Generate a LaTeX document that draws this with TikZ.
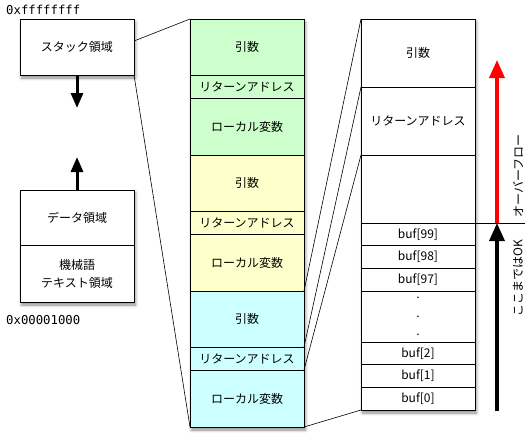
\documentclass[tikz,border=0pt]{standalone}
\usepackage{fontspec}
\setmainfont{Noto Sans CJK JP}
\setmonofont{DejaVu Sans Mono}
\usetikzlibrary{arrows.meta,shadows.blur}

\definecolor{frameA}{RGB}{204,255,204}
\definecolor{frameB}{RGB}{255,255,204}
\definecolor{frameC}{RGB}{204,255,255}

\begin{document}
\begin{tikzpicture}[x=1pt,y=-1pt]
  \tikzset{
    cell/.style={draw=black, line width=0.8pt, minimum width=114pt, inner sep=0pt, outer sep=0pt, anchor=north west, align=center, font=\fontsize{12}{18}\selectfont},
    column/.style={cell, fill=white, blur shadow={shadow xshift=1.5pt, shadow yshift=-3pt, shadow blur radius=3pt, shadow opacity=45}},
    addr/.style={anchor=west, inner sep=0pt, font=\ttfamily\fontsize{12.3}{14}\selectfont},
    fat arrow/.style={line width=3pt, -{Triangle[width=12pt,length=15pt]}},
    flow arrow/.style={line width=3.5pt, -{Triangle[width=15pt,length=18pt]}},
    side label/.style={rotate=90, inner sep=0pt, font=\fontsize{12}{14}\selectfont},
    link/.style={line width=0.6pt}
  }
  \useasboundingbox (0,0) rectangle (528,442);

  \node [addr] (top addr) at (6,10) {0xffffffff};
  \node [addr] (bottom addr) at (6,320) {0x00001000};

  \node [column, minimum height=56pt] (stack) at (20,19) {スタック領域};

  \node [column, minimum height=112pt] (lower) at (20,190) {};
  \node [cell, minimum height=55pt] (data) at (20,190) {データ領域};
  \node [cell, minimum height=57pt] (text) at (data.south west) {機械語\\テキスト領域};

  \coordinate (down tip) at (77,108);
  \coordinate (up tip) at (77,157);
  \draw [fat arrow] (stack.south) -- (down tip);
  \draw [fat arrow] (data.north) -- (up tip);

  \node [column, minimum height=408pt] (frames) at (190,19) {};
  \foreach \name/\col [count=\i from 0] in {a/frameA, b/frameB, c/frameC} {
    \node [cell, fill=\col, minimum height=56pt] (\name-arg) at (190,{19+136*\i}) {引数};
    \node [cell, fill=\col, minimum height=23pt] (\name-ret) at (\name-arg.south west) {リターンアドレス};
    \node [cell, fill=\col, minimum height=57pt] (\name-loc) at (\name-ret.south west) {ローカル変数};
  }

  \node [column, minimum height=391pt] (buffer) at (361,19) {};
  \node [cell, minimum height=68pt] (r-arg) at (361,19) {引数};
  \node [cell, minimum height=68pt] (r-ret) at (r-arg.south west) {リターンアドレス};
  \node [cell, minimum height=68pt] (r-loc) at (r-ret.south west) {};
  \node [cell, minimum height=22.7pt] (buf99) at (r-loc.south west) {buf[99]};
  \node [cell, minimum height=22.7pt] (buf98) at (buf99.south west) {buf[98]};
  \node [cell, minimum height=22.7pt] (buf97) at (buf98.south west) {buf[97]};
  \node [cell, minimum height=51pt, font=\fontsize{12}{18.5}\selectfont] (dots) at (buf97.south west) {.\\.\\.};
  \node [cell, minimum height=22.7pt] (buf2) at (dots.south west) {buf[2]};
  \node [cell, minimum height=22.7pt] (buf1) at (buf2.south west) {buf[1]};
  \node [cell, minimum height=22.7pt] (buf0) at (buf1.south west) {buf[0]};

  \draw [link] ([yshift=6pt]stack.east) -- (frames.north west);
  \draw [link] (stack.south east) -- (frames.south west);
  \draw [link] (c-arg.north east) -- (buffer.north west);
  \draw [link] (c-ret.north east) -- (r-ret.north west);
  \draw [link] (c-loc.north east) -- (r-loc.north west);
  \draw [link] (c-loc.south east) -- (buffer.south west);

  \coordinate (limit end) at (525,223);
  \coordinate (limit) at (497,223);
  \coordinate (ok base) at (497,411);
  \coordinate (overflow tip) at (497,60);
  \draw [line width=0.8pt] (buf99.north east) -- (limit end);
  \draw [flow arrow, red] (limit) -- (overflow tip);
  \draw [flow arrow] (ok base) -- (limit);

  \node [side label] (overflow) at (518,176) {オーバーフロー};
  \node [side label] (ok) at (518,278) {ここまではOK};
\end{tikzpicture}
\end{document}
